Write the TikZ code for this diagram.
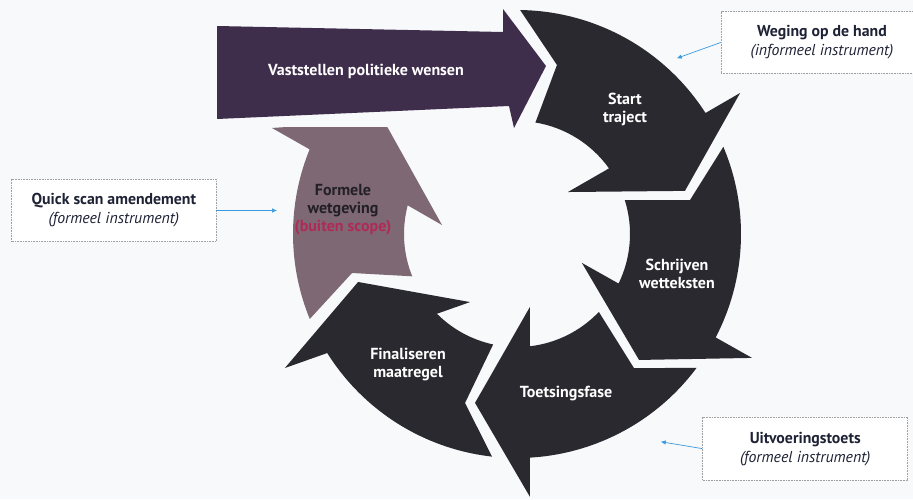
\documentclass[tikz,border=0pt]{standalone}
\usepackage{fontspec}
\setmainfont{PT Sans}
\usetikzlibrary{arrows.meta}
\definecolor{bgc}{HTML}{F7F9FB}
\definecolor{ringc}{HTML}{2B2930}
\definecolor{formelec}{HTML}{7E6873}
\definecolor{vastc}{HTML}{3F2D4C}
\definecolor{scopered}{HTML}{B02A55}
\definecolor{formtxt}{HTML}{222026}
\definecolor{connc}{HTML}{3A9AE0}
\definecolor{boxtxt}{HTML}{1E2235}
\begin{document}
\begin{tikzpicture}[x=1pt,y=1pt,
  seglabel/.style={text=white, font=\bfseries\fontsize{16}{18}\selectfont, align=center, inner sep=0pt},
  infobox/.style={draw=gray!75, dash pattern=on 1pt off 0.6pt, line width=0.6pt, fill=white, align=center, inner sep=0pt, text=boxtxt, font=\fontsize{15.8}{19}\selectfont},
  link/.style={connc, line width=0.7pt, -{Latex[length=5pt,width=4.5pt]}}
]
\useasboundingbox (0,0) rectangle (913,499);
\fill[bgc] (0,0) rectangle (913,499);

% ring segments
\begin{scope}[shift={(517,265)}]
  % Start traject
  \fill[ringc] (89.2:224) -- (76.7:173.7) -- (80.6:113)
    arc[start angle=80.6, end angle=35.5, radius=113]
    -- (39.5:66) -- (14.4:173.4) -- (32.3:264) -- (32.7:224)
    arc[start angle=32.7, end angle=89.2, radius=224] -- cycle;
  % Schrijven wetteksten
  \fill[ringc] (22.9:224) -- (11.1:176.3) -- (17.5:113)
    arc[start angle=17.5, end angle=-26, radius=113]
    -- (-24:71) -- (-45.9:175.4) -- (-27.8:265.7) -- (-27.5:224)
    arc[start angle=-27.5, end angle=22.9, radius=224] -- cycle;
  % Toetsingsfase
  \fill[ringc] (-36.7:224) -- (-48.9:178) -- (-43.6:113)
    arc[start angle=-43.6, end angle=-83.4, radius=113]
    -- (-79.9:74) -- (-103.96:174) -- (-87.2:263) -- (-86.7:224)
    arc[start angle=-86.7, end angle=-36.7, radius=224] -- cycle;
  % Finaliseren maatregel
  \fill[ringc] (-96.4:224) -- (-107.1:176.8) -- (-102.2:113)
    arc[start angle=-102.2, end angle=-135.1, radius=113]
    -- (-124.6:82.7) -- (-163.2:166) -- (-150:268) -- (-147.9:224)
    arc[start angle=-147.9, end angle=-96.4, radius=224] -- cycle;
\end{scope}
% Formele wetgeving (head cut off below the purple arrow)
\begin{scope}
  \clip (0,0) rectangle (913,371);
  \fill[formelec, shift={(517,265)}] (202.3:224) -- (193.3:169.5) -- (202:113)
    arc[start angle=202, end angle=165.3, radius=113]
    -- (173.2:75.5) -- (139.6:175) -- (156.6:267) -- (157.8:224)
    arc[start angle=157.8, end angle=202.3, radius=224] -- cycle;
\end{scope}
% Vaststellen politieke wensen arrow
\fill[vastc] (217,473) -- (503,467) -- (503,490) -- (546,433) -- (514,371)
  -- (509,393) -- (217,380) -- cycle;

% labels
\node[seglabel] (vast) at (366,428) {Vaststellen politieke wensen};
\node[seglabel] (start) at (625,390) {Start\\traject};
\node[seglabel] (schrijven) at (677,225.5) {Schrijven\\wetteksten};
\node[seglabel] (toets) at (566,105) {Toetsingsfase};
\node[seglabel] (final) at (408,134) {Finaliseren\\maatregel};
\node[seglabel, text=formtxt] (formele) at (343,289.5) {Formele\\wetgeving\\\textcolor{scopered}{(buiten scope)}};

% instrument boxes
\node[infobox, minimum width=202pt, minimum height=61.6pt] (weging) at (822,456.5)
  {\textbf{Weging op de hand}\\\textit{(informeel instrument)}};
\node[infobox, minimum width=204.3pt, minimum height=62.4pt] (quick) at (113.85,288.5)
  {\textbf{Quick scan amendement}\\\textit{(formeel instrument)}};
\node[infobox, minimum width=205pt, minimum height=62.7pt] (uitv) at (805.2,50.35)
  {\textbf{Uitvoeringstoets}\\\textit{(formeel instrument)}};

% connectors
\coordinate (wegtip) at (676.7,440.7);
\coordinate (quicktip) at (277,288.5);
\coordinate (uitvtip) at (660.7,57.3);
\draw[link] (weging.west) -- (wegtip);
\draw[link] (quick.east) -- (quicktip);
\draw[link] (uitv.west) -- (uitvtip);
\end{tikzpicture}
\end{document}
